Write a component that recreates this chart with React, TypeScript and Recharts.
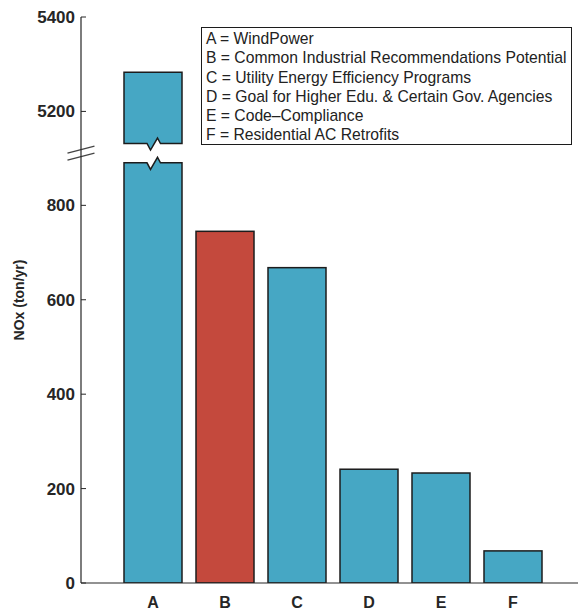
import React from "react"
import { BarChart, Bar, XAxis, YAxis, Legend, ReferenceLine } from "recharts"

const categories = ["A", "B", "C", "D", "E", "F"]
const noxValues = [5283, 745, 668, 241, 233, 68]
const programNames = [
  "WindPower",
  "Common Industrial Recommendations Potential",
  "Utility Energy Efficiency Programs",
  "Goal for Higher Edu. & Certain Gov. Agencies",
  "Code\u2013Compliance",
  "Residential AC Retrofits",
]
const yTicks = [0, 200, 400, 600, 800, 5200, 5400]
const yMax = 5400
const highlighted = "B"

// the y axis is cut between these two values
const BREAK_LOW = 890
const BREAK_HIGH = 5132
const BREAK_GAP = 41

const toAxis = (v: number) => (v <= BREAK_LOW ? v : v - BREAK_HIGH + BREAK_LOW + BREAK_GAP)
const fromAxis = (t: number) => (t <= BREAK_LOW ? t : t + BREAK_HIGH - BREAK_LOW - BREAK_GAP)

const BLUE = "#46a7c4"
const RED = "#c4493d"
const EDGE = "#1c1c1c"
const AXIS = "#262626"
const FONT = "'Liberation Sans', Arial, Helvetica, sans-serif"

const rows = categories.map((name, i) => ({
  name,
  value: noxValues[i],
  plotted: toAxis(noxValues[i]),
  broken: noxValues[i] > BREAK_LOW,
}))

function BrokenBar(props: any) {
  const { x, y, width, height, payload } = props
  const fill = payload.name === highlighted ? RED : BLUE
  const bottom = y + height
  if (!payload.broken) {
    return <rect x={x} y={y} width={width} height={height} fill={fill} stroke={EDGE} strokeWidth={1.5} />
  }
  const ppu = height / payload.plotted
  const yt = bottom - BREAK_LOW * ppu
  const yb = bottom - (BREAK_LOW + BREAK_GAP) * ppu
  const cx = x + width / 2
  const lower = [
    [x, bottom], [x, yt], [cx - 6, yt], [cx - 2.5, yt + 6.5], [cx + 4.5, yt - 5.5], [cx + 7.5, yt],
    [x + width, yt], [x + width, bottom],
  ]
  const upper = [
    [x, y], [x + width, y], [x + width, yb], [cx + 7.5, yb], [cx + 4.5, yb - 5.5], [cx - 2.5, yb + 6.5],
    [cx - 6, yb], [x, yb],
  ]
  const pts = (p: number[][]) => p.map((q) => q.join(",")).join(" ")
  return (
    <g>
      <polygon points={pts(lower)} fill={fill} stroke={EDGE} strokeWidth={1.5} strokeLinejoin="miter" />
      <polygon points={pts(upper)} fill={fill} stroke={EDGE} strokeWidth={1.5} strokeLinejoin="miter" />
    </g>
  )
}

function AxisBreak(props: any) {
  const { x1, y1 } = props
  return (
    <g>
      <polygon
        points={`${x1 - 13.5},${y1} ${x1 + 13.5},${y1 - 7} ${x1 + 13.5},${y1} ${x1 - 13.5},${y1 + 7}`}
        fill="#fff"
      />
      <line x1={x1 - 13.5} y1={y1} x2={x1 + 13.5} y2={y1 - 7} stroke="#444" strokeWidth={1.3} />
      <line x1={x1 - 13.5} y1={y1 + 7} x2={x1 + 13.5} y2={y1} stroke="#444" strokeWidth={1.3} />
    </g>
  )
}

function KeyBox() {
  return (
    <div
      style={{
        boxSizing: "border-box",
        width: 371,
        height: 118,
        border: `1.5px solid ${EDGE}`,
        background: "#fff",
        padding: "1px 0 0 4px",
        fontFamily: FONT,
        fontSize: 15.7,
        lineHeight: "19.3px",
        color: "#222",
        whiteSpace: "nowrap",
      }}
    >
      {categories.map((c, i) => (
        <div key={c}>{`${c} = ${programNames[i]}`}</div>
      ))}
    </div>
  )
}

export default function App() {
  const xTickStyle = { fill: AXIS, fontSize: 16, fontWeight: "bold" as const, fontFamily: FONT }
  const yTickStyle = { fill: AXIS, fontSize: 17, fontWeight: "bold" as const, fontFamily: FONT }
  return (
    <div style={{ position: "absolute", left: 0, top: 0, width: 578, height: 611, overflow: "hidden", background: "#fff" }}>
      <BarChart width={590} height={611} data={rows} margin={{ top: 17, right: 5, bottom: 0, left: 0 }}>
        <XAxis
          xAxisId="top"
          orientation="top"
          dataKey="name"
          height={0}
          padding={{ left: 36, right: 36 }}
          tick={false}
          tickSize={-5}
          tickLine={{ stroke: AXIS, strokeWidth: 1 }}
          axisLine={{ stroke: AXIS, strokeWidth: 1.2 }}
        />
        <XAxis
          xAxisId="bottom"
          dataKey="name"
          height={28}
          padding={{ left: 36, right: 36 }}
          tickLine={false}
          tickSize={0}
          tickMargin={14}
          axisLine={{ stroke: AXIS, strokeWidth: 1.2 }}
          tick={xTickStyle}
        />
        <YAxis
          type="number"
          width={81}
          domain={[0, toAxis(yMax)]}
          ticks={yTicks.map(toAxis)}
          tickFormatter={(t: number) => String(Math.round(fromAxis(t)))}
          allowDataOverflow
          tickSize={-5}
          tickMargin={11}
          tickLine={{ stroke: AXIS, strokeWidth: 1 }}
          axisLine={{ stroke: AXIS, strokeWidth: 1.2 }}
          tick={yTickStyle}
          label={{
            value: "NOx (ton/yr)",
            angle: -90,
            position: "insideLeft",
            offset: 19,
            style: { fill: AXIS, fontSize: 14, fontWeight: "bold", fontFamily: FONT, textAnchor: "middle" },
          }}
        />
        <Bar
          xAxisId="bottom"
          dataKey="plotted"
          barSize={58}
          shape={BrokenBar}
          isAnimationActive={false}
        />
        <ReferenceLine
          xAxisId="bottom"
          y={BREAK_LOW + BREAK_GAP / 2}
          ifOverflow="visible"
          shape={AxisBreak}
        />
        <Legend
          layout="horizontal"
          verticalAlign="middle"
          content={() => <KeyBox />}
          wrapperStyle={{ left: 201, top: 27, width: 371, height: 118 }}
        />
      </BarChart>
    </div>
  )
}
